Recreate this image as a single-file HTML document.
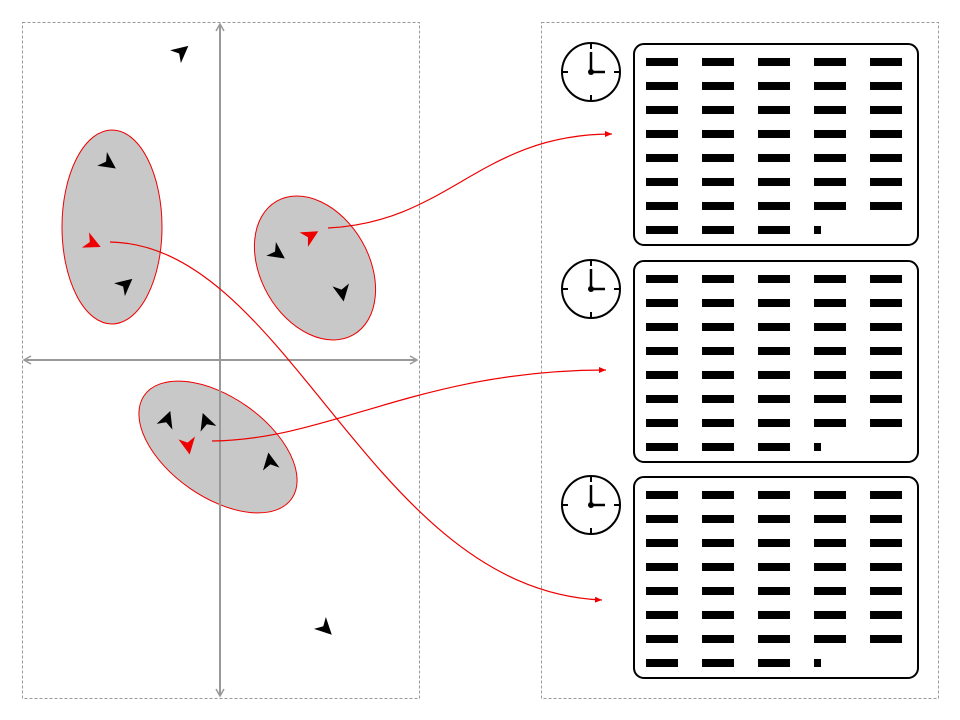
<!DOCTYPE html>
<html><head><meta charset="utf-8"><style>html,body{margin:0;padding:0;background:#fff}svg{display:block}</style></head>
<body>
<svg id="c" width="960" height="720" viewBox="0 0 960 720" xmlns="http://www.w3.org/2000/svg">
<defs>
<marker id="ga" markerWidth="10" markerHeight="10" refX="8" refY="5" orient="auto-start-reverse" markerUnits="userSpaceOnUse"><path d="M1,1 L8,5 L1,9" fill="none" stroke="#999" stroke-width="1.5"/></marker>
<marker id="ra" markerWidth="8" markerHeight="8" refX="7" refY="4" orient="auto" markerUnits="userSpaceOnUse"><path d="M0,1 L7,4 L0,7 Z" fill="#e00"/></marker>
</defs>
<rect x="22.5" y="22.5" width="397" height="676" fill="none" stroke="#999" stroke-dasharray="3,2"/>
<rect x="541.5" y="22.5" width="397" height="676" fill="none" stroke="#999" stroke-dasharray="3,2"/>
<ellipse cx="112" cy="227" rx="50" ry="97" fill="#c8c8c8" stroke="#e00"/>
<ellipse cx="315" cy="268" rx="54" ry="77" transform="rotate(-30 315 268)" fill="#c8c8c8" stroke="#e00"/>
<ellipse cx="218" cy="447" rx="90" ry="50" transform="rotate(35 218 447)" fill="#c8c8c8" stroke="#e00"/>
<line x1="24" y1="360" x2="417" y2="360" stroke="#999" stroke-width="2" marker-start="url(#ga)" marker-end="url(#ga)"/>
<line x1="220" y1="696" x2="220" y2="24" stroke="#999" stroke-width="2" marker-start="url(#ga)" marker-end="url(#ga)"/>
<g fill="none" stroke="#e00" stroke-width="1.2">
<path d="M328,228 C450,222 480,134 612,134" marker-end="url(#ra)"/>
<path d="M212,441 C330,440 420,370 606,370" marker-end="url(#ra)"/>
<path d="M110,242 C290,245 370,590 602,600" marker-end="url(#ra)"/>
</g>
<g id="pts"></g>
<g id="boxes"></g>
</svg>
<script>
const ptX=[181,108,92,125,277,310,342,167,206,188,270,325];
const ptY=[52,163,243,285,253,236,292,420,422,445,462,628];
const ptAng=[-40,35,25,-40,35,-30,80,-70,-110,80,-100,45];
const ptRed=[0,0,1,0,0,1,0,0,0,1,0,0];
const ns='http://www.w3.org/2000/svg';
const pts=document.getElementById('pts');
for(let i=0;i<ptX.length;i++){
  const p=document.createElementNS(ns,'path');
  p.setAttribute('d','M8,0 L-6,-7 L-2,0 L-6,7 Z');
  p.setAttribute('fill',ptRed[i]?'#e00':'#000');
  p.setAttribute('transform',`translate(${ptX[i]},${ptY[i]}) rotate(${ptAng[i]}) scale(1.2)`);
  
  
  pts.appendChild(p);
}
const boxTop=[43,260,476];
const rowsPerBox=8, colsPerBox=5;
const boxes=document.getElementById('boxes');
boxTop.forEach((t,b)=>{
  const g=document.createElementNS(ns,'g');
  
  
  let h='';
  h+=`<rect x="634" y="${t+1}" width="284" height="201" rx="10" fill="#fff" stroke="#000" stroke-width="2"/>`;
  for(let r=0;r<rowsPerBox;r++){
    for(let c=0;c<colsPerBox;c++){
      const y=t+15+r*24;
      if(r==rowsPerBox-1 && c>=3){ if(c==3) h+=`<rect x="${646+c*56}" y="${y}" width="7" height="8" fill="#000"/>`; continue;}
      h+=`<rect x="${646+c*56}" y="${y}" width="32" height="8" fill="#000"/>`;
    }
  }
  const cy=t+29;
  h+=`<circle cx="591" cy="${cy}" r="29" fill="#fff" stroke="#000" stroke-width="2"/>`;
  h+=`<path d="M591,${cy-29}v6M591,${cy+29}v-6M562,${cy}h6M620,${cy}h-6" stroke="#000" stroke-width="2"/>`;
  h+=`<path d="M591,${cy}v-20M591,${cy}h14" stroke="#000" stroke-width="2.5"/>`;
  h+=`<circle cx="591" cy="${cy}" r="3" fill="#000"/>`;
  g.innerHTML=h;
  boxes.appendChild(g);
});
</script>
</body></html>
